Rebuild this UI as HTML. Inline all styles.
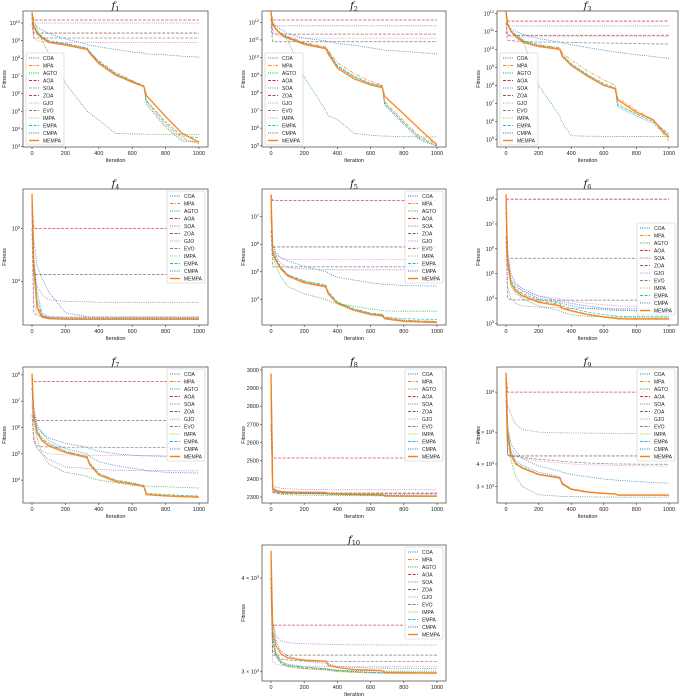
<!DOCTYPE html>
<html><head><meta charset="utf-8"><style>
html,body{margin:0;padding:0;background:#fff;}
svg{display:block;font-family:"Liberation Sans",sans-serif;}
</style></head><body>
<svg id="fig" width="685" height="698" viewBox="0 0 685 698" xmlns="http://www.w3.org/2000/svg"></svg>
<script>
const iterations = [0,10,30,60,100,200,330,345,400,500,600,670,685,800,900,1000];
const seriesNames = ["COA","MPA","AGTO","AOA","SOA","ZOA","GJO","EVO","IMPA","EMPA","CMPA","MEMPA"];
const xTicks = [0,200,400,600,800,1000];

// f1..f7: log10(fitness); f8: raw fitness (linear axis); f9,f10: raw fitness (log axis)
const f1Log10 = [
[10.0,9.9,9.8,9.6,9.4,9.1,8.8,8.75,8.65,8.5,8.35,8.3,8.25,8.2,8.12,8.07],
[10.5,9.9,9.5,9.2,8.95,8.8,8.55,8.35,7.85,7.2,6.75,6.45,5.6,4.3,3.5,3.15],
[10.5,10.2,9.7,9.0,8.3,6.6,5.0,4.9,4.5,3.75,3.72,3.72,3.7,3.7,3.7,3.7],
[10.6,10.17,10.17,10.17,10.17,10.17,10.17,10.17,10.17,10.17,10.17,10.17,10.17,10.17,10.17,10.17],
[10.4,10.0,10.0,10.0,10.0,10.0,10.0,10.0,10.0,10.0,10.0,10.0,10.0,10.0,10.0,10.0],
[10.3,9.43,9.43,9.43,9.43,9.43,9.43,9.43,9.43,9.43,9.43,9.43,9.43,9.43,9.43,9.43],
[10.2,9.2,9.0,8.95,8.9,8.9,8.9,8.9,8.9,8.9,8.9,8.9,8.9,8.9,8.9,8.9],
[10.0,9.15,9.15,9.15,9.15,9.15,9.15,9.15,9.15,9.15,9.15,9.15,9.15,9.15,9.15,9.15],
[10.5,9.85,9.45,9.2,8.95,8.8,8.5,8.3,7.75,7.1,6.7,6.4,5.5,4.2,3.4,3.2],
[10.5,9.9,9.5,9.25,9.0,8.85,8.6,8.4,7.8,7.15,6.7,6.45,5.6,4.4,3.6,3.5],
[10.5,9.85,9.45,9.2,8.95,8.8,8.55,8.35,7.8,7.1,6.7,6.4,5.4,4.1,3.3,3.3],
[10.6,9.8,9.4,9.15,8.9,8.75,8.5,8.3,7.7,7.05,6.65,6.4,5.9,4.7,3.75,3.25]];
const f2Log10 = [
[12.1,12.0,11.8,11.6,11.35,11.1,10.95,10.9,10.8,10.7,10.55,10.45,10.42,10.35,10.28,10.2],
[12.5,11.9,11.65,11.4,11.2,10.85,10.6,10.4,9.7,9.1,8.65,8.45,7.5,6.4,5.5,5.1],
[12.5,12.0,11.6,11.3,11.0,8.9,7.0,6.7,6.5,5.7,5.6,5.55,5.55,5.52,5.5,5.5],
[12.6,12.13,12.13,12.13,12.13,12.13,12.13,12.13,12.13,12.13,12.13,12.13,12.13,12.13,12.13,12.13],
[12.3,11.8,11.8,11.8,11.8,11.8,11.8,11.8,11.8,11.8,11.8,11.8,11.8,11.8,11.8,11.8],
[12.2,11.33,11.33,11.33,11.33,11.33,11.33,11.33,11.33,11.33,11.33,11.33,11.33,11.33,11.33,11.33],
[12.0,11.6,11.3,11.15,11.1,11.1,11.1,11.1,11.1,11.1,11.1,11.1,11.1,11.1,11.1,11.1],
[11.8,10.9,10.9,10.9,10.9,10.9,10.9,10.9,10.9,10.9,10.9,10.9,10.9,10.9,10.9,10.9],
[12.5,11.85,11.6,11.35,11.15,10.8,10.55,10.3,9.5,8.9,8.5,8.35,7.4,6.3,5.4,5.15],
[12.5,11.9,11.6,11.35,11.15,10.8,10.55,10.35,9.55,8.95,8.55,8.4,7.4,6.3,5.4,5.0],
[12.5,11.85,11.6,11.35,11.15,10.8,10.5,10.3,9.5,8.9,8.5,8.35,7.3,6.2,5.3,5.0],
[12.6,11.9,11.6,11.3,11.1,10.75,10.5,10.2,9.4,8.8,8.45,8.3,7.8,6.8,5.9,5.05]];
const f3Log10 = [
[11.4,11.3,11.15,11.0,10.85,10.6,10.4,10.35,10.25,10.1,9.95,9.85,9.83,9.7,9.6,9.5],
[12.0,11.4,11.05,10.8,10.5,10.25,10.1,9.8,9.4,8.8,8.3,8.0,7.3,6.6,6.1,4.9],
[12.0,11.5,11.0,10.8,10.6,8.0,6.3,5.9,5.2,5.17,5.16,5.15,5.15,5.15,5.15,5.15],
[12.1,11.57,11.57,11.57,11.57,11.57,11.57,11.57,11.57,11.57,11.57,11.57,11.57,11.57,11.57,11.57],
[11.8,11.3,11.3,11.3,11.3,11.3,11.3,11.3,11.3,11.3,11.3,11.3,11.3,11.3,11.3,11.3],
[11.5,10.78,10.78,10.78,10.78,10.78,10.78,10.78,10.78,10.78,10.78,10.78,10.78,10.78,10.78,10.78],
[11.3,10.75,10.72,10.7,10.7,10.7,10.7,10.7,10.7,10.7,10.7,10.7,10.7,10.7,10.7,10.7],
[11.0,10.5,10.5,10.45,10.45,10.4,10.4,10.4,10.38,10.36,10.35,10.34,10.34,10.32,10.3,10.3],
[12.0,11.4,11.0,10.75,10.45,10.2,10.05,9.7,9.2,8.6,8.05,7.85,7.0,6.4,6.0,5.2],
[12.0,11.4,11.05,10.8,10.5,10.25,10.05,9.7,9.2,8.6,8.1,7.85,6.9,6.4,6.0,5.3],
[12.0,11.35,11.0,10.75,10.45,10.2,10.0,9.65,9.15,8.55,8.0,7.8,6.8,6.3,5.9,5.1],
[12.1,11.4,11.0,10.7,10.4,10.15,10.0,9.6,9.1,8.5,8.0,7.8,7.2,6.5,6.1,5.1]];
const f4Log10 = [
[5.4,4.8,4.3,4.05,3.8,3.4,3.33,3.32,3.32,3.32,3.32,3.32,3.32,3.32,3.32,3.32],
[5.6,4.4,3.6,3.35,3.3,3.28,3.28,3.28,3.28,3.28,3.28,3.28,3.28,3.28,3.28,3.28],
[5.6,4.2,3.5,3.33,3.3,3.29,3.29,3.29,3.29,3.29,3.29,3.29,3.29,3.29,3.29,3.29],
[5.5,5.0,5.0,5.0,5.0,5.0,5.0,5.0,5.0,5.0,5.0,5.0,5.0,5.0,5.0,5.0],
[5.3,4.2,3.9,3.75,3.65,3.62,3.61,3.61,3.6,3.6,3.6,3.6,3.6,3.6,3.6,3.6],
[5.3,4.13,4.13,4.13,4.13,4.13,4.13,4.13,4.13,4.13,4.13,4.13,4.13,4.13,4.13,4.13],
[5.2,3.6,3.4,3.35,3.33,3.32,3.32,3.32,3.32,3.32,3.32,3.32,3.32,3.32,3.32,3.32],
[5.0,3.4,3.35,3.33,3.32,3.32,3.32,3.32,3.32,3.32,3.32,3.32,3.32,3.32,3.32,3.32],
[5.6,4.3,3.55,3.33,3.29,3.28,3.28,3.28,3.28,3.28,3.28,3.28,3.28,3.28,3.28,3.28],
[5.6,4.45,3.65,3.36,3.3,3.28,3.28,3.28,3.28,3.28,3.28,3.28,3.28,3.28,3.28,3.28],
[5.5,4.5,3.8,3.4,3.32,3.3,3.3,3.3,3.3,3.3,3.3,3.3,3.3,3.3,3.3,3.3],
[5.66,4.3,3.5,3.32,3.29,3.28,3.28,3.28,3.28,3.28,3.28,3.28,3.28,3.28,3.28,3.28]];
const f5Log10 = [
[7.0,6.0,5.7,5.5,5.4,5.2,5.0,4.95,4.8,4.7,4.6,4.55,4.55,4.5,4.49,4.48],
[7.7,5.75,5.45,5.15,4.9,4.65,4.5,4.25,3.9,3.65,3.5,3.45,3.35,3.25,3.22,3.2],
[7.6,5.6,5.2,4.8,4.47,4.2,4.0,3.95,3.85,3.75,3.65,3.6,3.58,3.57,3.57,3.57],
[7.8,7.58,7.58,7.58,7.58,7.58,7.58,7.58,7.58,7.58,7.58,7.58,7.58,7.58,7.58,7.58],
[7.0,6.0,5.6,5.3,5.15,5.1,5.08,5.08,5.07,5.07,5.07,5.07,5.07,5.07,5.07,5.07],
[7.2,5.9,5.9,5.9,5.9,5.9,5.9,5.9,5.9,5.9,5.9,5.9,5.9,5.9,5.9,5.9],
[7.0,5.8,5.6,5.5,5.45,5.44,5.44,5.44,5.44,5.44,5.44,5.44,5.44,5.44,5.44,5.44],
[6.5,5.18,5.18,5.18,5.18,5.18,5.18,5.18,5.18,5.18,5.18,5.18,5.18,5.18,5.18,5.18],
[7.7,5.7,5.4,5.1,4.85,4.62,4.47,4.22,3.88,3.62,3.47,3.42,3.32,3.24,3.22,3.2],
[7.7,5.8,5.5,5.15,4.9,4.67,4.52,4.28,3.9,3.66,3.5,3.45,3.36,3.3,3.28,3.27],
[7.7,5.75,5.45,5.1,4.87,4.63,4.48,4.22,3.87,3.63,3.48,3.43,3.32,3.23,3.21,3.2],
[7.8,5.7,5.4,5.1,4.85,4.6,4.45,4.2,3.85,3.6,3.45,3.4,3.3,3.2,3.18,3.16]];
const f6Log10 = [
[7.5,5.8,5.0,4.6,4.4,4.1,3.9,3.88,3.8,3.7,3.6,3.55,3.55,3.52,3.5,3.5],
[8.1,5.5,4.65,4.35,4.15,3.9,3.75,3.65,3.52,3.37,3.27,3.22,3.2,3.19,3.19,3.19],
[8.0,5.3,4.5,4.2,4.0,3.7,3.5,3.45,3.35,3.28,3.26,3.25,3.25,3.25,3.25,3.25],
[8.0,8.0,8.0,8.0,8.0,8.0,8.0,8.0,8.0,8.0,8.0,8.0,8.0,8.0,8.0,8.0],
[7.0,4.5,4.0,3.8,3.7,3.65,3.62,3.6,3.6,3.6,3.6,3.6,3.6,3.6,3.6,3.6],
[7.5,5.62,5.62,5.62,5.62,5.62,5.62,5.62,5.62,5.62,5.62,5.62,5.62,5.62,5.62,5.62],
[7.5,6.0,5.0,4.6,4.3,4.1,4.0,3.95,3.9,3.8,3.75,3.7,3.7,3.68,3.66,3.65],
[6.5,4.0,3.95,3.94,3.94,3.94,3.93,3.93,3.93,3.93,3.93,3.93,3.93,3.93,3.93,3.93],
[8.1,5.5,4.6,4.3,4.1,3.85,3.7,3.6,3.5,3.36,3.26,3.21,3.2,3.2,3.2,3.2],
[8.1,5.6,4.7,4.4,4.2,3.95,3.8,3.7,3.6,3.45,3.35,3.3,3.28,3.27,3.26,3.26],
[8.1,5.7,4.8,4.5,4.3,4.0,3.85,3.8,3.7,3.6,3.55,3.52,3.52,3.5,3.5,3.5],
[8.2,5.5,4.6,4.3,4.1,3.85,3.7,3.6,3.5,3.35,3.25,3.2,3.18,3.17,3.17,3.17]];
const f7Log10 = [
[7.5,6.5,6.0,5.8,5.6,5.4,5.25,5.2,5.1,5.0,4.95,4.92,4.92,4.9,4.88,4.86],
[8.0,6.5,5.85,5.55,5.35,5.1,4.9,4.65,4.25,4.0,3.88,3.8,3.48,3.42,3.4,3.38],
[7.8,6.2,5.6,5.0,4.6,4.3,4.15,4.1,4.0,3.9,3.8,3.78,3.77,3.75,3.72,3.7],
[7.9,7.75,7.75,7.75,7.75,7.75,7.75,7.75,7.75,7.75,7.75,7.75,7.75,7.75,7.75,7.75],
[7.0,5.7,5.2,5.0,4.8,4.5,4.45,4.44,4.4,4.38,4.37,4.36,4.36,4.36,4.35,4.35],
[7.5,6.26,6.26,6.26,6.26,6.26,6.26,6.26,6.26,6.26,6.26,6.26,6.26,6.26,6.26,6.26],
[7.0,5.5,5.2,5.1,5.0,4.96,4.95,4.95,4.94,4.94,4.94,4.94,4.94,4.94,4.94,4.94],
[6.5,5.5,5.3,5.27,5.26,5.25,5.25,5.25,5.25,5.24,5.24,5.24,5.24,5.24,5.24,5.24],
[8.0,6.45,5.8,5.5,5.3,5.05,4.85,4.6,4.2,3.96,3.86,3.76,3.46,3.41,3.38,3.36],
[8.0,6.6,5.9,5.6,5.4,5.1,4.9,4.65,4.25,4.0,3.9,3.8,3.5,3.45,3.42,3.4],
[7.9,6.8,6.1,5.8,5.5,5.2,5.0,4.9,4.7,4.55,4.45,4.4,4.35,4.3,4.28,4.27],
[8.05,6.5,5.8,5.5,5.3,5.05,4.85,4.6,4.2,3.95,3.85,3.75,3.45,3.4,3.37,3.35]];
const f8Raw = [
[2700,2360,2340,2330,2325,2320,2316,2315,2313,2311,2310,2309,2309,2308,2307,2306],
[2950,2340,2330,2326,2324,2322,2321,2317,2315,2313,2312,2312,2304,2303,2303,2303],
[2900,2330,2320,2315,2312,2310,2309,2309,2308,2307,2307,2306,2306,2305,2305,2305],
[2980,2515,2515,2515,2515,2515,2515,2515,2515,2515,2515,2515,2515,2515,2515,2515],
[2900,2370,2355,2348,2345,2342,2341,2340,2340,2340,2340,2340,2340,2340,2340,2340],
[2800,2330,2325,2323,2322,2322,2322,2322,2322,2322,2322,2322,2322,2322,2322,2322],
[2800,2340,2330,2325,2322,2320,2318,2318,2317,2316,2315,2315,2315,2314,2314,2314],
[2700,2325,2320,2319,2318,2318,2318,2318,2318,2318,2318,2318,2318,2318,2318,2318],
[2950,2338,2328,2324,2322,2320,2319,2316,2314,2312,2311,2311,2304,2303,2303,2303],
[2950,2342,2332,2327,2325,2323,2322,2318,2316,2314,2313,2312,2305,2304,2304,2304],
[2900,2350,2335,2328,2324,2320,2318,2316,2314,2312,2311,2310,2308,2307,2306,2306],
[2980,2345,2335,2330,2328,2326,2325,2320,2318,2316,2315,2315,2306,2305,2305,2305]];
const f9Raw = [
[10000,6500,5200,4700,4300,3900,3650,3600,3500,3400,3300,3260,3250,3200,3160,3130],
[12500,5900,4450,3980,3780,3480,3330,3080,2880,2780,2740,2720,2680,2680,2680,2680],
[12000,5500,4200,3400,3000,2700,2650,2645,2640,2630,2625,2622,2620,2620,2620,2620],
[12800,10000,10000,10000,10000,10000,10000,10000,10000,10000,10000,10000,10000,10000,10000,10000],
[11000,8500,7500,6600,6200,6000,5950,5950,5940,5930,5920,5910,5910,5900,5900,5900],
[11000,4430,4430,4430,4430,4430,4430,4430,4430,4430,4430,4430,4430,4430,4430,4430],
[10000,5500,4800,4500,4300,4150,4050,4040,4000,3960,3940,3930,3925,3910,3900,3890],
[9000,4500,4450,4400,4350,4250,4150,4130,4100,4050,4020,4000,4000,3990,3985,3980],
[12500,5950,4480,3990,3790,3490,3340,3090,2890,2790,2745,2725,2685,2685,2685,2685],
[12500,6100,4600,4050,3850,3520,3370,3120,2900,2800,2750,2730,2690,2690,2690,2690],
[12000,6200,4700,4150,3950,3600,3400,3150,2920,2810,2760,2735,2700,2695,2690,2690],
[12800,6000,4500,4000,3800,3500,3350,3100,2900,2800,2750,2730,2690,2690,2690,2690]];
const f10Raw = [
[4100,3500,3300,3200,3150,3100,3080,3075,3050,3040,3035,3033,3033,3032,3031,3030],
[4300,3300,3150,3080,3050,3030,3020,3015,3005,2995,2990,2988,2987,2986,2985,2985],
[4000,3300,3150,3080,3050,3030,3020,3018,3015,3010,3008,3007,3006,3005,3005,3005],
[4300,3462,3462,3462,3462,3462,3462,3462,3462,3462,3462,3462,3462,3462,3462,3462],
[4000,3500,3350,3300,3280,3270,3265,3262,3260,3258,3258,3257,3257,3257,3257,3257],
[4000,3157,3157,3157,3157,3157,3157,3157,3157,3157,3157,3157,3157,3157,3157,3157],
[3800,3100,3070,3060,3055,3052,3051,3050,3050,3050,3050,3050,3050,3050,3050,3050],
[3900,3200,3150,3120,3110,3100,3098,3097,3096,3095,3095,3095,3095,3095,3095,3095],
[4300,3280,3140,3075,3045,3025,3015,3010,3000,2992,2988,2986,2985,2984,2984,2984],
[4300,3320,3160,3090,3060,3040,3028,3022,3010,3000,2994,2990,2989,2988,2987,2987],
[4200,3350,3180,3100,3070,3045,3030,3025,3012,3002,2995,2992,2990,2989,2988,2988],
[4350,3400,3250,3170,3130,3110,3100,3060,3040,3020,3015,3010,2995,2992,2990,2990]];

const f1Ticks=[3,4,5,6,7,8,9,10], f2Ticks=[5,6,7,8,9,10,11,12], f3Ticks=[5,6,7,8,9,10,11,12];
const f4Ticks=[4,5], f5Ticks=[4,5,6,7], f6Ticks=[3,4,5,6,7,8], f7Ticks=[4,5,6,7,8];
const f8Ticks=[2300,2400,2500,2600,2700,2800,2900,3000];
const f9Ticks=[3000,4000,6000,10000], f9TickLabels=["3 × 10","4 × 10","6 × 10","10"], f9TickExp=["3","3","3","4"];
const f10Ticks=[3000,4000], f10TickLabels=["3 × 10","4 × 10"], f10TickExp=["3","3"];

const colors=["#1f77b4","#ff7f0e","#2ca02c","#d62728","#9467bd","#8c564b","#e377c2","#7f7f7f","#bcbd22","#17becf","#1f77b4","#ff7f0e"];
const dashes=["1,1.2","3.5,1.5,1,1.5","1,1.2","3,1.5","1,1.2","3,1.5","1,1.2","3,1.5","1,1.2","3,1.5","1,1.2",""];
const NS="http://www.w3.org/2000/svg";
const svg=document.getElementById('fig');
function mk(tag,attrs,parent){const e=document.createElementNS(NS,tag);for(const k in attrs)e.setAttribute(k,attrs[k]);(parent||svg).appendChild(e);return e;}

const panels=[
{t:"1",col:0,row:0,data:f1Log10,mode:"exp",lo:2.98,hi:10.68,ticks:f1Ticks,leg:"ll"},
{t:"2",col:1,row:0,data:f2Log10,mode:"exp",lo:4.93,hi:12.64,ticks:f2Ticks,leg:"ll"},
{t:"3",col:2,row:0,data:f3Log10,mode:"exp",lo:4.57,hi:12.13,ticks:f3Ticks,leg:"ll"},
{t:"4",col:0,row:1,data:f4Log10,mode:"exp",lo:3.17,hi:5.75,ticks:f4Ticks,leg:"ur"},
{t:"5",col:1,row:1,data:f5Log10,mode:"exp",lo:3.07,hi:8.0,ticks:f5Ticks,leg:"ur"},
{t:"6",col:2,row:1,data:f6Log10,mode:"exp",lo:2.93,hi:8.41,ticks:f6Ticks,leg:"cr"},
{t:"7",col:0,row:2,data:f7Log10,mode:"exp",lo:3.13,hi:8.3,ticks:f7Ticks,leg:"ur"},
{t:"8",col:1,row:2,data:f8Raw,mode:"lin",lo:2267,hi:3016,ticks:f8Ticks,leg:"ur"},
{t:"9",col:2,row:2,data:f9Raw,mode:"log",lo:2432,hi:13770,ticks:f9Ticks,tl:f9TickLabels,te:f9TickExp,leg:"ur"},
{t:"10",col:1,row:3,data:f10Raw,mode:"log",lo:2916,hi:4427,ticks:f10Ticks,tl:f10TickLabels,te:f10TickExp,leg:"ur"}];
const cols=[[23,208],[262,446],[497,678]];
const rowTops=[11,189,367,545];
const H=136;

panels.forEach(p=>{
  const L=cols[p.col][0],R=cols[p.col][1],T=rowTops[p.row],B=T+H;
  const g=mk('g',{});
  
  
  const xs=v=>L+9+(R-L-18)*v/1000;
  const tr=v=>p.mode==="log"?Math.log10(v):v;
  const lo=tr(p.lo),hi=tr(p.hi);
  const ys=v=>B-(tr(v)-lo)/(hi-lo)*H;
  const clipId='clip'+p.t;
  const cp=mk('clipPath',{id:clipId},g);mk('rect',{x:L,y:T,width:R-L,height:H},cp);
  // series
  const sg=mk('g',{'clip-path':'url(#'+clipId+')'},g);
  p.data.forEach((vals,si)=>{
    let d="";
    vals.forEach((v,i)=>{d+=(i?"L":"M")+xs(iterations[i]).toFixed(2)+","+ys(v).toFixed(2);});
    const last=si===11;
    const path=mk('path',{d:d,fill:"none",stroke:colors[si],'stroke-width':last?1.4:0.8,'stroke-dasharray':dashes[si],opacity:last?0.9:0.85},sg);
    
    
  });
  // frame
  const fr=mk('rect',{x:L,y:T,width:R-L,height:H,fill:"none",stroke:"#555",'stroke-width':0.8},g);
  
  
  // x ticks
  xTicks.forEach(v=>{
    const x=xs(v);
    mk('line',{x1:x,x2:x,y1:B,y2:B+2,stroke:"#333",'stroke-width':0.6},g);
    const t=mk('text',{x:x,y:B+8,'font-size':5.5,'text-anchor':'middle',fill:"#222"},g);
    t.textContent=v;
    
    
  });
  const xl=mk('text',{x:(L+R)/2,y:B+15,'font-size':5.5,'text-anchor':'middle',fill:"#222"},g);
  xl.textContent="Iteration";
  
  
  // y ticks
  p.ticks.forEach((v,i)=>{
    const y=p.mode==="exp"?B-(v-lo)/(hi-lo)*H:ys(v);
    if(y<T-1||y>B+1)return;
    mk('line',{x1:L-2,x2:L,y1:y,y2:y,stroke:"#333",'stroke-width':0.6},g);
    const t=mk('text',{x:L-3,y:y+2,'font-size':5.5,'text-anchor':'end',fill:"#222"},g);
    
    
    if(p.mode==="lin"){t.textContent=v;}
    else{
      const base=p.mode==="exp"?"10":p.tl[i];
      const ex=p.mode==="exp"?String(v):p.te[i];
      t.appendChild(document.createTextNode(base));
      const s=mk('tspan',{'font-size':3.8,dy:-2.2},t);s.textContent=ex;
    }
  });
  const yl=mk('text',{x:0,y:0,'font-size':5.5,'text-anchor':'middle',fill:"#222",transform:`translate(${L-17},${(T+B)/2}) rotate(-90)`},g);
  yl.textContent="Fitness";
  
  
  // title
  const tt=mk('text',{x:(L+R)/2,y:T-2,'font-size':10,'text-anchor':'middle','font-style':'italic','font-family':'"DejaVu Serif","Liberation Serif",serif',fill:"#111"},g);
  tt.appendChild(document.createTextNode("f"));
  const sub=mk('tspan',{'font-size':6.5,dy:2,'font-style':'normal'},tt);sub.textContent=p.t;
  
  
  // legend
  const lw=38,lh=92;
  let lx,ly;
  if(p.leg==="ll"){lx=L+3;ly=B-lh-2;}
  else if(p.leg==="ur"){lx=R-lw-3;ly=T+2;}
  else {lx=R-lw-3;ly=(T+B)/2-lh/2+12;}
  const lg=mk('g',{},g);
  
  
  mk('rect',{x:lx,y:ly,width:lw,height:lh,rx:1.5,fill:"#fff",'fill-opacity':0.85,stroke:"#ccc",'stroke-width':0.6},lg);
  seriesNames.forEach((n,si)=>{
    const yy=ly+5+si*7.5;
    const ent=mk('g',{},lg);
    
    
    mk('line',{x1:lx+3,x2:lx+13,y1:yy,y2:yy,stroke:colors[si],'stroke-width':si===11?1.4:0.9,'stroke-dasharray':dashes[si]},ent);
    const t=mk('text',{x:lx+17,y:yy+1.8,'font-size':5,fill:"#222"},ent);t.textContent=n;
  });
});
</script>
</body></html>
